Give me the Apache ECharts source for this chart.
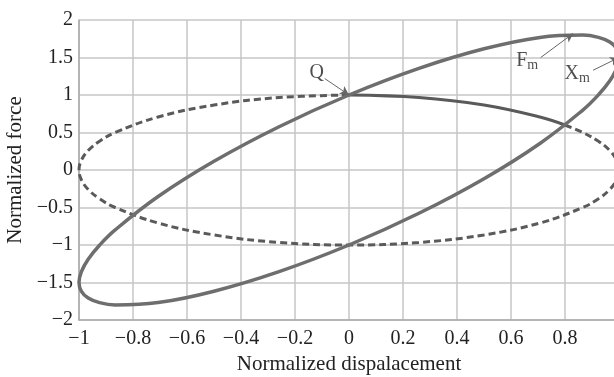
<!DOCTYPE html>
<html>
<head>
<meta charset="utf-8">
<script src="https://cdn.jsdelivr.net/npm/echarts@6/dist/echarts.min.js"></script>
<style>
  html, body { margin: 0; padding: 0; background: #fff; }
  #chart { width: 614px; height: 377px; }
</style>
</head>
<body>
<div id="chart"></div>
<script>
// tilted loop (force vs displacement)
const loopPoints = [
    [1, 1.5], [0.991, 1.618], [0.966, 1.708], [0.924, 1.769], [0.866, 1.799], [0.707, 1.768],
    [0.5, 1.616], [0.259, 1.355], [0, 1], [-0.259, 0.577], [-0.5, 0.116], [-0.707, -0.354],
    [-0.866, -0.799], [-0.924, -1.003], [-0.966, -1.19], [-0.991, -1.356], [-1, -1.5],
    [-0.991, -1.618], [-0.966, -1.708], [-0.924, -1.769], [-0.866, -1.799], [-0.707, -1.768],
    [-0.5, -1.616], [-0.259, -1.355], [0, -1], [0.259, -0.577], [0.5, -0.116], [0.707, 0.354],
    [0.866, 0.799], [0.924, 1.003], [0.966, 1.19], [0.991, 1.356], [1, 1.5]
];
// dashed ellipse, from the crossing at 0.8 round the bottom to Q
const dashedPoints = [
    [0.8, 0.6], [0.866, 0.5], [0.924, 0.383], [0.966, 0.259], [0.991, 0.131], [1, 0],
    [0.991, -0.131], [0.966, -0.259], [0.924, -0.383], [0.866, -0.5], [0.707, -0.707],
    [0.5, -0.866], [0.259, -0.966], [0, -1], [-0.259, -0.966], [-0.5, -0.866], [-0.707, -0.707],
    [-0.866, -0.5], [-0.924, -0.383], [-0.966, -0.259], [-0.991, -0.131], [-1, 0],
    [-0.991, 0.131], [-0.966, 0.259], [-0.924, 0.383], [-0.866, 0.5], [-0.707, 0.707],
    [-0.5, 0.866], [-0.259, 0.966], [0, 1]
];
// the solid bit of the same ellipse between Q and the crossing
const solidArc = [[0, 1], [0.259, 0.966], [0.5, 0.866], [0.707, 0.707], [0.8, 0.6]];

// annotations: text position, arrow start, arrow end
const notes = [
    { text: '{t|Q}', at: [-0.12, 1.3], from: [-0.09, 1.22], to: [0, 1] },
    { text: '{t|F}{s|m}', at: [0.66, 1.46], from: [0.71, 1.5], to: [0.83, 1.82] },
    { text: '{t|X}{s|m}', at: [0.845, 1.29], from: [0.904, 1.33], to: [1.0, 1.5] }
];

const serif = '"Liberation Serif", "DejaVu Serif", serif';
const fmt = v => String(v).replace('-', '\u2212');

const chart = echarts.init(document.getElementById('chart'));
const option = {
    backgroundColor: '#fff',
    animation: false,
    grid: { left: 79, width: 540, top: 20, height: 300, containLabel: false, outerBoundsMode: 'none' },
    xAxis: {
        type: 'value', min: -1, max: 1, interval: 0.2,
        name: 'Normalized dispalacement', nameLocation: 'middle', nameGap: 33,
        nameTextStyle: { fontFamily: serif, fontSize: 21, color: '#222' },
        axisLine: { show: true, onZero: false, lineStyle: { color: '#aaa', width: 1.5 } },
        axisTick: { show: false },
        axisLabel: { fontFamily: serif, fontSize: 20, color: '#222', margin: 9, formatter: fmt },
        splitLine: { show: true, lineStyle: { color: '#c6c6c6', width: 1.5 } }
    },
    yAxis: {
        type: 'value', min: -2, max: 2, interval: 0.5,
        name: 'Normalized force', nameLocation: 'middle', nameGap: 51,
        nameTextStyle: { fontFamily: serif, fontSize: 21, color: '#222' },
        axisLine: { show: true, onZero: false, lineStyle: { color: '#aaa', width: 1.5 } },
        axisTick: { show: false },
        axisLabel: { fontFamily: serif, fontSize: 20, color: '#222', margin: 6, formatter: fmt },
        splitLine: { show: true, lineStyle: { color: '#c6c6c6', width: 1.5 } }
    },
    series: [{
        type: 'line', data: dashedPoints, smooth: 0.4, symbol: 'none',
        lineStyle: { color: '#5a5a5a', width: 3, type: [7, 4] }
    }, {
        type: 'line', data: solidArc, smooth: 0.4, symbol: 'none',
        lineStyle: { color: '#5a5a5a', width: 3 }
    }, {
        type: 'line', data: loopPoints, smooth: 0.4, symbol: 'none',
        lineStyle: { color: '#6e6e6e', width: 3.5 }
    }, {
        type: 'scatter', symbolSize: 0,
        data: notes.map(n => ({ value: n.at, text: n.text })),
        label: {
            show: true, position: 'inside',
            formatter: p => p.data.text,
            rich: {
                t: { fontFamily: serif, fontSize: 20, color: '#222' },
                s: { fontFamily: serif, fontSize: 14, color: '#222', padding: [10, 0, 0, 0] }
            }
        },
        markLine: {
            silent: true, symbol: ['none', 'arrow'], symbolSize: [7, 9],
            label: { show: false },
            lineStyle: { color: '#666', width: 1, type: 'solid' },
            data: notes.map(n => [{ coord: n.from }, { coord: n.to }])
        }
    }]
};
chart.setOption(option);
</script>
</body>
</html>
